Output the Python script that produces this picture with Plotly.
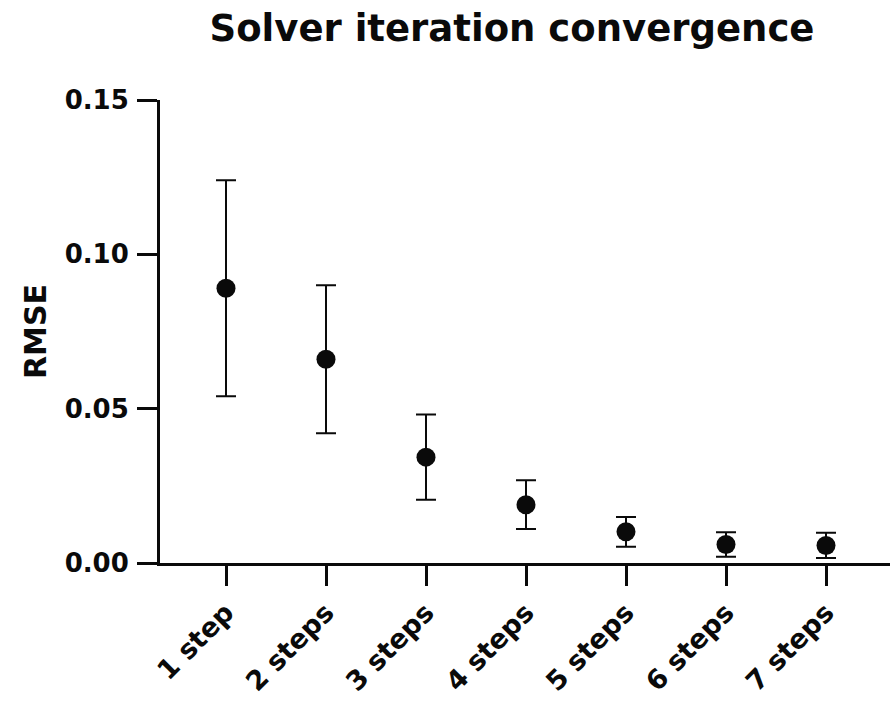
import plotly.graph_objects as go

# Solver convergence: mean RMSE and spread per number of iterations
steps = ["1 step", "2 steps", "3 steps", "4 steps", "5 steps", "6 steps", "7 steps"]
rmse_mean = [0.089, 0.066, 0.0343, 0.0189, 0.0101, 0.0060, 0.0057]
rmse_err = [0.035, 0.024, 0.0138, 0.0079, 0.0048, 0.0040, 0.0041]
y_ticks = [0.0, 0.05, 0.10, 0.15]

FONT = "DejaVu Sans"
INK = "#0a0a0a"

fig = go.Figure(
    go.Scatter(
        x=steps,
        y=rmse_mean,
        mode="markers",
        marker=dict(size=19, color=INK),
        error_y=dict(type="data", array=rmse_err, visible=True,
                     color=INK, thickness=2, width=10),
        cliponaxis=False,
        showlegend=False,
    )
)

fig.update_layout(
    width=890,
    height=702,
    margin=dict(l=160, r=0, t=100, b=139),
    paper_bgcolor="white",
    plot_bgcolor="white",
    font=dict(family=FONT, color=INK),
    title=dict(
        text="<b>Solver iteration convergence</b>",
        x=512 / 890,
        xanchor="center",
        y=1 - 28 / 702,
        yanchor="middle",
        font=dict(family=FONT, size=37, color=INK),
    ),
)

fig.update_xaxes(
    type="category",
    range=[-0.66, 6.64],
    automargin=False,
    showline=True,
    linecolor=INK,
    linewidth=3,
    ticks="outside",
    ticklen=20,
    tickwidth=3,
    tickcolor=INK,
    tickangle=-45,
    tickfont=dict(family=FONT, size=27, color=INK, weight="bold"),
    showgrid=False,
    zeroline=False,
)

fig.update_yaxes(
    range=[0, 0.15],
    automargin=False,
    tickvals=y_ticks,
    tickformat=".2f",
    showline=True,
    linecolor=INK,
    linewidth=3,
    ticks="outside",
    ticklen=20,
    tickwidth=3,
    tickcolor=INK,
    ticklabelstandoff=3,
    tickfont=dict(family=FONT, size=26, color=INK, weight="bold"),
    title=dict(text="<b>RMSE</b>", font=dict(family=FONT, size=30, color=INK),
               standoff=10),
    showgrid=False,
    zeroline=False,
)

fig.write_html("out.html")
